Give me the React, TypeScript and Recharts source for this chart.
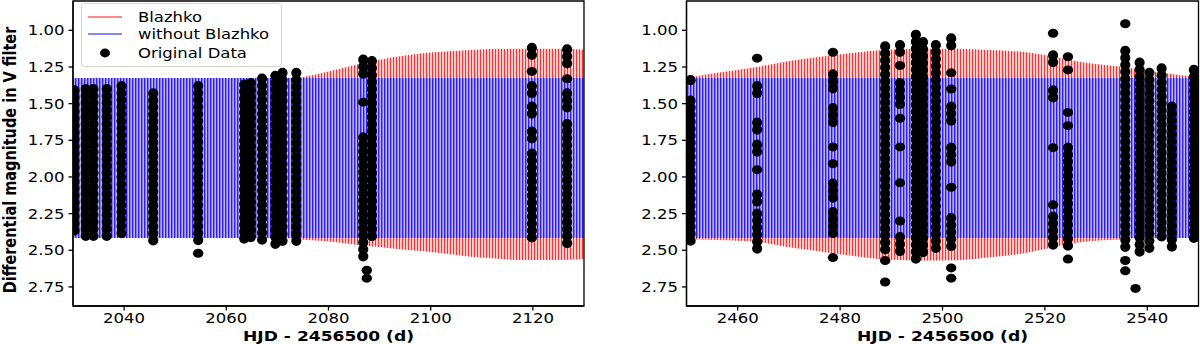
import { ComposedChart, Area, Line, Scatter, XAxis, YAxis, ReferenceArea } from 'recharts';

const yTicks = [1.0, 1.25, 1.5, 1.75, 2.0, 2.25, 2.5, 2.75];
const leftTicks = [2040, 2060, 2080, 2100, 2120];
const rightTicks = [2460, 2480, 2500, 2520, 2540];

// model without Blazhko: constant light curve limits (bright, faint)
const plainBand = [1.325, 2.416];

// Blazhko model envelope, left window
const leftEnvDays = [2030, 2045, 2060, 2070, 2075, 2080, 2086, 2090, 2096, 2100, 2107, 2112, 2118, 2124, 2130];
const leftEnvTop = [1.39, 1.42, 1.39, 1.34, 1.318, 1.28, 1.23, 1.2, 1.166, 1.152, 1.136, 1.128, 1.125, 1.126, 1.13];
const leftEnvBottom = [2.36, 2.34, 2.37, 2.41, 2.428, 2.44, 2.465, 2.478, 2.5, 2.511, 2.54, 2.555, 2.567, 2.566, 2.561];

// Blazhko model envelope, right window
const rightEnvDays = [2450, 2456, 2463.7, 2470, 2478.6, 2484, 2490, 2496, 2503, 2509, 2516, 2521, 2525.5, 2530, 2535.3, 2541.8, 2550];
const rightEnvTop = [1.325, 1.29, 1.25, 1.21, 1.17, 1.148, 1.13, 1.125, 1.125, 1.135, 1.148, 1.175, 1.205, 1.23, 1.25, 1.284, 1.318];
const rightEnvBottom = [2.425, 2.43, 2.443, 2.48, 2.52, 2.545, 2.565, 2.57, 2.568, 2.55, 2.52, 2.485, 2.452, 2.435, 2.425, 2.4, 2.37];

// observed nights: [day, brightest, faintest] runs of points
const leftRuns: [number, number, number][] = [
  [2030.3, 1.41, 2.41], [2032.5, 1.4, 2.42], [2034.0, 1.4, 2.42], [2036.6, 1.4, 2.44],
  [2039.5, 1.38, 2.42], [2045.7, 1.43, 2.44], [2054.5, 1.38, 2.47],
  [2063.5, 1.37, 2.45], [2064.8, 1.36, 2.43], [2067.0, 1.33, 2.47], [2069.6, 1.31, 2.49],
  [2071.0, 1.29, 2.47], [2073.7, 1.29, 2.44],
  [2086.8, 1.2, 1.32], [2086.8, 1.73, 2.55], [2088.5, 1.21, 2.45],
  [2119.8, 1.12, 1.17], [2119.8, 1.38, 1.45], [2119.8, 1.52, 1.57], [2119.8, 1.69, 1.74], [2119.8, 1.84, 2.43],
  [2126.7, 1.13, 1.25], [2126.7, 1.43, 1.56], [2126.7, 1.64, 2.46],
];
const leftSingles: [number, number][] = [
  [2054.5, 2.52], [2086.8, 1.49], [2087.5, 2.636], [2087.5, 2.69], [2119.8, 1.28], [2126.7, 1.33],
];

const rightRuns: [number, number, number][] = [
  [2450.8, 1.34, 1.38], [2450.8, 1.48, 2.45],
  [2463.8, 1.38, 1.44], [2463.8, 1.63, 1.7], [2463.8, 1.78, 1.85], [2463.8, 2.12, 2.19], [2463.8, 2.25, 2.49],
  [2478.6, 1.3, 1.42], [2478.6, 1.53, 1.67], [2478.6, 2.045, 2.18], [2478.6, 2.24, 2.4],
  [2488.8, 1.11, 2.5],
  [2491.7, 1.1, 1.16], [2491.7, 1.36, 1.51], [2491.7, 2.41, 2.55],
  [2494.8, 1.03, 2.57], [2496.2, 1.08, 2.55], [2498.7, 1.1, 2.52],
  [2501.7, 1.055, 1.12], [2501.7, 1.52, 1.64], [2501.7, 1.8, 1.94], [2501.7, 2.28, 2.5],
  [2521.6, 1.17, 1.22], [2521.6, 1.41, 1.46], [2521.6, 2.27, 2.49],
  [2524.5, 1.8, 2.5],
  [2535.7, 1.14, 2.5], [2538.5, 1.22, 2.55], [2540.4, 1.29, 2.5],
  [2542.8, 1.26, 2.41], [2544.8, 1.52, 2.51], [2549.1, 1.27, 2.43],
];
const rightSingles: [number, number][] = [
  [2463.8, 1.19], [2463.8, 1.95], [2478.6, 1.15], [2478.6, 1.795], [2478.6, 1.91], [2478.6, 2.55],
  [2488.8, 2.57], [2488.8, 2.716], [2491.7, 1.24], [2491.7, 1.6], [2491.7, 1.795], [2491.7, 2.04], [2491.7, 2.3],
  [2501.7, 1.29], [2501.7, 1.4], [2501.7, 2.07], [2501.7, 2.62], [2501.7, 2.69],
  [2521.6, 1.02], [2521.6, 1.8], [2521.6, 2.19],
  [2524.5, 1.18], [2524.5, 1.27], [2524.5, 1.56], [2524.5, 1.65], [2524.5, 2.56],
  [2535.7, 0.955], [2535.7, 2.57], [2535.7, 2.64], [2537.7, 2.76],
];

const FONT = 'DejaVu Sans, sans-serif';
const Y_DOMAIN: [number, number] = [0.8, 2.88];

const XTick = (p: any) => (
  <g transform={`translate(${p.x},${p.y})`}>
    <text transform="scale(1.18,1)" textAnchor="middle" dy={10.2} fontSize={14} fontFamily={FONT} fill="#000">
      {p.payload.value}
    </text>
  </g>
);

const YTick = (p: any) => (
  <g transform={`translate(${p.x},${p.y})`}>
    <text transform="scale(1.18,1)" textAnchor="end" dy={5} fontSize={14} fontFamily={FONT} fill="#000">
      {Number(p.payload.value).toFixed(2)}
    </text>
  </g>
);

const Dot = (p: any) => <ellipse cx={p.cx} cy={p.cy} rx={5.2} ry={4.5} fill="#000" />;

interface PanelProps {
  days: number[];
  top: number[];
  bottom: number[];
  runs: [number, number, number][];
  singles: [number, number][];
  domain: [number, number];
  ticks: number[];
  axisWidth: number;
  marginRight: number;
}

function Panel({ days, top, bottom, runs, singles, domain, ticks, axisWidth, marginRight }: PanelProps) {
  const rows = days.map((d, i) => ({ d, top: top[i], bottom: bottom[i], pTop: plainBand[0], pBottom: plainBand[1] }));
  const pts = singles.map(([d, m]) => ({ d, m }));
  return (
    <ComposedChart width={600} height={344} data={rows} margin={{ top: 1, right: marginRight, left: 0, bottom: 0 }}>
      <XAxis
        dataKey="d"
        type="number"
        domain={domain}
        ticks={ticks}
        allowDataOverflow
        height={38}
        tickSize={4.5}
        tickMargin={2.5}
        tick={XTick}
        stroke="#000"
        strokeWidth={1.3}
      />
      <YAxis
        type="number"
        reversed
        domain={Y_DOMAIN}
        ticks={yTicks}
        allowDataOverflow
        width={axisWidth}
        tickSize={4.5}
        tickMargin={4}
        tick={YTick}
        stroke="#000"
        strokeWidth={1.3}
      />
      <Area
        type="monotone"
        dataKey={(r: any) => [r.top, r.bottom]}
        fill="url(#redStripes)"
        fillOpacity={1}
        stroke="none"
        isAnimationActive={false}
      />
      <Area
        type="linear"
        dataKey={(r: any) => [r.pTop, r.pBottom]}
        fill="url(#blueStripes)"
        fillOpacity={1}
        stroke="none"
        isAnimationActive={false}
      />
      {runs.map(([d, lo, hi], i) => (
        <Line
          key={i}
          data={[{ d, m: lo }, { d, m: hi }]}
          dataKey="m"
          stroke="#000"
          strokeWidth={10.2}
          strokeLinecap="round"
          strokeDasharray="0 7"
          dot={false}
          activeDot={false}
          isAnimationActive={false}
        />
      ))}
      <Scatter data={pts} dataKey="m" shape={Dot} isAnimationActive={false} />
      <ReferenceArea x1={domain[0]} x2={domain[1]} y1={Y_DOMAIN[0]} y2={Y_DOMAIN[1]} fill="none" stroke="#000" strokeWidth={1.3} />
    </ComposedChart>
  );
}

export default function App() {
  return (
    <div style={{ position: 'absolute', left: 0, top: 0, width: 1200, height: 344, background: '#fff' }}>
      <svg width={0} height={0} style={{ position: 'absolute' }}>
        <defs>
          <pattern id="blueStripes" patternUnits="userSpaceOnUse" width={3} height={10}>
            <rect width={3} height={10} fill="#bdb5f3" />
            <rect width={1.4} height={10} fill="#2a1cff" />
          </pattern>
          <pattern id="redStripes" patternUnits="userSpaceOnUse" width={3} height={10}>
            <rect width={3} height={10} fill="#ffd2d2" />
            <rect width={1.1} height={10} fill="#ff3030" />
          </pattern>
        </defs>
      </svg>
      <div style={{ position: 'absolute', left: 0, top: 0 }}>
        <Panel
          days={leftEnvDays}
          top={leftEnvTop}
          bottom={leftEnvBottom}
          runs={leftRuns}
          singles={leftSingles}
          domain={[2030, 2130]}
          ticks={leftTicks}
          axisWidth={73}
          marginRight={16}
        />
      </div>
      <div style={{ position: 'absolute', left: 600, top: 0 }}>
        <Panel
          days={rightEnvDays}
          top={rightEnvTop}
          bottom={rightEnvBottom}
          runs={rightRuns}
          singles={rightSingles}
          domain={[2450, 2550]}
          ticks={rightTicks}
          axisWidth={86.5}
          marginRight={1.5}
        />
      </div>
      <svg width={1200} height={344} style={{ position: 'absolute', left: 0, top: 0, pointerEvents: 'none' }}>
        <g transform="translate(15.5,160) scale(1.2,1) rotate(-90)">
          <text textAnchor="middle" fontSize={14.5} fontWeight="bold" fontFamily={FONT} fill="#000">
            Differential magnitude in V filter
          </text>
        </g>
        <g transform="translate(328.5,340.5) scale(1.18,1)">
          <text textAnchor="middle" fontSize={14.5} fontWeight="bold" fontFamily={FONT} fill="#000">
            HJD - 2456500 (d)
          </text>
        </g>
        <g transform="translate(942.5,340.5) scale(1.18,1)">
          <text textAnchor="middle" fontSize={14.5} fontWeight="bold" fontFamily={FONT} fill="#000">
            HJD - 2456500 (d)
          </text>
        </g>
        <rect x={81.5} y={3.5} width={200} height={63} rx={3} fill="#fff" fillOpacity={0.8} stroke="#d4d4d4" />
        <line x1={88} y1={17} x2={122} y2={17} stroke="#ff6060" strokeWidth={1.3} />
        <line x1={88} y1={34} x2={122} y2={34} stroke="#6060ff" strokeWidth={1.3} />
        <ellipse cx={105} cy={53} rx={5} ry={4.4} fill="#000" />
        <g transform="translate(138,22) scale(1.22,1)">
          <text fontSize={13.5} fontFamily={FONT} fill="#000">Blazhko</text>
        </g>
        <g transform="translate(138,39) scale(1.22,1)">
          <text fontSize={13.5} fontFamily={FONT} fill="#000">without Blazhko</text>
        </g>
        <g transform="translate(138,58) scale(1.22,1)">
          <text fontSize={13.5} fontFamily={FONT} fill="#000">Original Data</text>
        </g>
      </svg>
    </div>
  );
}
